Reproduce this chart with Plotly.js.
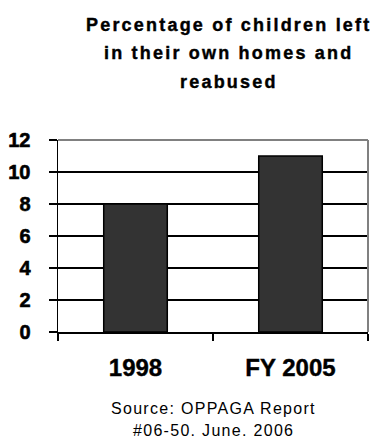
<!DOCTYPE html>
<html>
<head>
<meta charset="utf-8">
<script src="https://cdn.plot.ly/plotly-3.0.1.min.js"></script>
<style>
html,body{margin:0;padding:0;background:#fff;}
#chart{width:371px;height:438px;}
.xtick text{stroke:#000; stroke-width:0.4px;}
</style>
</head>
<body>
<div id="chart"></div>
<script>
var categories = ["1998", "FY 2005"];
var values = [8, 11];
var yTicks = [0, 2, 4, 6, 8, 10, 12];
var titleLines = ["Percentage of children left", "in their own homes and", "reabused"];
var sourceLines = ["Source: OPPAGA Report", "#06-50. June. 2006"];

var trace = {
  type: "bar",
  x: categories,
  y: values,
  marker: {color: "#333333", line: {color: "#000000", width: 1.5}},
  hoverinfo: "none"
};

var annotations = [];
var titleY = [25, 53, 82];
titleLines.forEach(function(t, i){
  annotations.push({
    text: "<b><span style=\"letter-spacing:2.2px; stroke:#000; stroke-width:0.4px\">" + t + "</span></b>", xref: "paper", yref: "paper",
    x: 0.55, y: 1 + (140 - titleY[i]) / 192, xanchor: "center", yanchor: "middle",
    showarrow: false, font: {family: "Liberation Sans, Arial, sans-serif", size: 18, weight: "bold", color: "#000"}
  });
});
var srcY = [408, 430];
sourceLines.forEach(function(t, i){
  annotations.push({
    text: "<span style=\"letter-spacing:1.3px\">" + t + "</span>", xref: "paper", yref: "paper",
    x: 0.5, y: -(srcY[i] - 332) / 192, xanchor: "center", yanchor: "middle",
    showarrow: false, font: {family: "Liberation Sans, Arial, sans-serif", size: 16, color: "#000"}
  });
});

var layout = {
  width: 371, height: 438,
  margin: {l: 58, r: 3, t: 140, b: 106, pad: 0},
  paper_bgcolor: "#ffffff", plot_bgcolor: "#ffffff",
  showlegend: false,
  bargap: 0.59,
  font: {family: "Liberation Sans, Arial, sans-serif", color: "#000"},
  xaxis: {
    type: "category",
    tickson: "boundaries",
    ticks: "outside", ticklen: 7, tickwidth: 1.5, tickcolor: "#000",
    showline: true, linecolor: "#000", linewidth: 1.5,
    showgrid: false, zeroline: false,
    tickfont: {size: 24, family: "Liberation Sans, Arial, sans-serif", weight: "bold", color: "#000"},
    ticklabelstandoff: 14,
    fixedrange: true
  },
  yaxis: {
    range: [0, 12],
    tickmode: "array",
    tickvals: yTicks,
    ticktext: yTicks.map(function(v){ return "<b><span style=\"stroke:#000; stroke-width:0.6px\">" + v + "</span></b>"; }),
    ticks: "outside", ticklen: 8, tickwidth: 1.5, tickcolor: "#000",
    showline: true, linecolor: "#000", linewidth: 1.5,
    showgrid: true, gridcolor: "#000", gridwidth: 1.5,
    zeroline: false,
    tickfont: {size: 20, family: "Liberation Sans, Arial, sans-serif", weight: "bold", color: "#000"},
    ticklabelstandoff: 14,
    fixedrange: true
  },
  shapes: [
    {type: "line", xref: "x domain", yref: "y domain", x0: 0, x1: 1, y0: 1, y1: 1, line: {color: "#808080", width: 2}, layer: "above"},
    {type: "line", xref: "x domain", yref: "y domain", x0: 1, x1: 1, y0: 0, y1: 1, line: {color: "#808080", width: 2}, layer: "above"}
  ],
  annotations: annotations
};

Plotly.newPlot("chart", [trace], layout, {staticPlot: true, displayModeBar: false});
</script>
</body>
</html>
